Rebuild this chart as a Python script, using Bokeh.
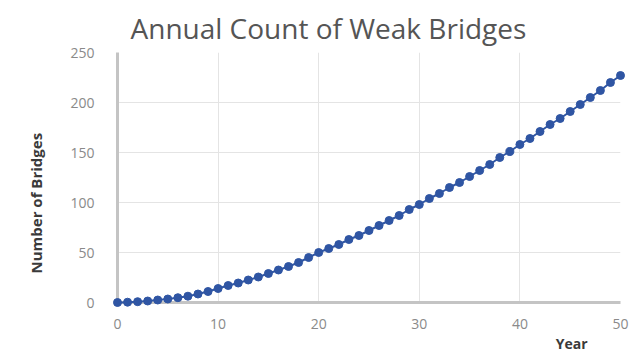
from bokeh.plotting import figure
from bokeh.models import Range1d, FixedTicker, Title
from bokeh.embed import file_html
from bokeh.resources import INLINE

years = list(range(0, 51))
bridges = [0, 0.3, 0.8, 1.5, 2.5, 3.5, 4.8, 6.3, 8.5, 11,
           14, 17, 19.5, 22.5, 25.5, 29, 32.5, 36, 40, 45,
           50, 54, 58, 63, 67, 72, 77, 82, 87, 93,
           98, 104, 109, 115, 120, 126, 132, 138, 145, 151,
           158, 164, 171, 178, 184, 191, 198, 205, 212, 220,
           227]
x_ticks = [0, 10, 20, 30, 40, 50]
y_ticks = [0, 50, 100, 150, 200, 250]
title_text = "Annual Count of Weak Bridges"
x_label = "Year"
y_label = "Number of Bridges"

FONT = "Open Sans"
TICK_COLOR = "#8a8a8a"

p = figure(width=636, height=353, output_backend="svg", toolbar_location=None,
           x_range=Range1d(0, 50), y_range=Range1d(0, 250),
           min_border_left=117, min_border_right=16, min_border_top=52,
           min_border_bottom=51)
p.outline_line_color = None
p.background_fill_color = "white"
p.border_fill_color = "white"

p.title.text = title_text
p.title.align = "left"
p.title.offset = 13
p.title.standoff = 11
p.title.text_font = FONT
p.title.text_font_size = "28px"
p.title.text_font_style = "normal"
p.title.text_color = "#555555"

for ax, ticks in ((p.xaxis, x_ticks), (p.yaxis, y_ticks)):
    ax.ticker = FixedTicker(ticks=ticks)
    ax.major_tick_line_color = None
    ax.minor_tick_line_color = None
    ax.axis_line_color = "#c4c4c4"
    ax.axis_line_width = 3
    ax.major_label_text_font = FONT
    ax.major_label_text_font_size = "14px"
    ax.major_label_text_color = TICK_COLOR
p.xaxis.major_label_standoff = 10
p.yaxis.major_label_standoff = 17

p.grid.grid_line_color = "#e4e4e4"
p.grid.grid_line_width = 1
p.xgrid.ticker = FixedTicker(ticks=x_ticks)
p.ygrid.ticker = FixedTicker(ticks=y_ticks)

p.line(years, bridges, line_color="#2f55a3", line_width=2, level="overlay")
p.scatter(years, bridges, size=8, fill_color="#2f55a3", line_color="#2f55a3",
          level="overlay")

p.add_layout(Title(text=y_label, align="left", offset=29, standoff=44,
                   text_font=FONT, text_font_size="15px", text_font_style="bold",
                   text_color="#3a3a3a"), "left")
p.add_layout(Title(text=x_label, align="right", offset=33, standoff=0,
                   text_font=FONT, text_font_size="14px", text_font_style="bold",
                   text_color="#3a3a3a"), "below")

open("out.html", "w").write(file_html(p, INLINE))
